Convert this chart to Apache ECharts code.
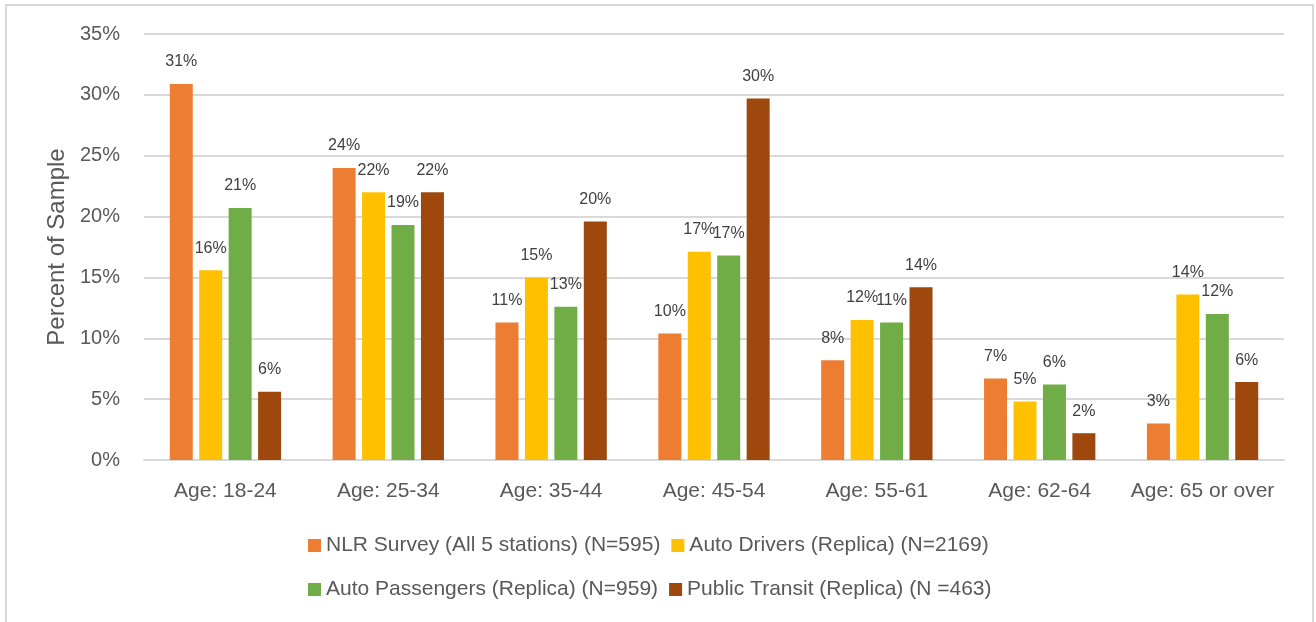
<!DOCTYPE html>
<html>
<head>
<meta charset="utf-8">
<script src="https://cdn.jsdelivr.net/npm/echarts@6/dist/echarts.min.js"></script>
<style>
html,body{margin:0;padding:0;background:#fff;}
#c{width:1316px;height:622px;}
</style>
</head>
<body>
<div id="c"></div>
<script>
const categories = ['Age: 18-24','Age: 25-34','Age: 35-44','Age: 45-54','Age: 55-61','Age: 62-64','Age: 65 or over'];
const seriesNames = ['NLR Survey (All 5 stations) (N=595)','Auto Drivers (Replica) (N=2169)','Auto Passengers (Replica) (N=959)','Public Transit (Replica) (N =463)'];
const nlrSurvey = [30.9, 24.0, 11.3, 10.4, 8.2, 6.7, 3.0];
const autoDrivers = [15.6, 22.0, 15.0, 17.1, 11.5, 4.8, 13.6];
const autoPassengers = [20.7, 19.3, 12.6, 16.8, 11.3, 6.2, 12.0];
const publicTransit = [5.6, 22.0, 19.6, 29.7, 14.2, 2.2, 6.4];
const yTicks = [0, 5, 10, 15, 20, 25, 30, 35];
const colors = ['#ED7D31','#FFC000','#70AD47','#9E480E'];

const FONT = '"Liberation Sans", Arial, sans-serif';
const txt = '#595959';
const allData = [nlrSurvey, autoDrivers, autoPassengers, publicTransit];

const legendBase = {
  left:303, itemWidth:13, itemHeight:13, itemGap:11, icon:'rect', orient:'horizontal',
  textStyle:{color:txt,fontSize:21,fontFamily:FONT}
};

const chart = echarts.init(document.getElementById('c'), null, {renderer:'canvas'});
chart.setOption({
  animation:false,
  textStyle:{fontFamily:FONT},
  graphic:[{type:'rect',shape:{x:6,y:5,width:1307,height:640},style:{fill:'none',stroke:'#D9D9D9',lineWidth:2},silent:true}],
  grid:{left:144,right:32,top:34,bottom:162},
  legend:[
    Object.assign({}, legendBase, {top:530, data:seriesNames.slice(0,2)}),
    Object.assign({}, legendBase, {top:574, data:seriesNames.slice(2,4)})
  ],
  xAxis:{
    type:'category', data:categories,
    axisLine:{lineStyle:{color:'#D9D9D9',width:2}},
    axisTick:{show:false},
    axisLabel:{color:txt,fontSize:21,margin:21,fontFamily:FONT,interval:0,hideOverlap:false}
  },
  yAxis:{
    type:'value', min:yTicks[0], max:yTicks[yTicks.length-1], interval:5,
    name:'Percent of Sample', nameLocation:'middle', nameGap:75,
    nameTextStyle:{color:txt,fontSize:24,fontFamily:FONT},
    axisLine:{show:false}, axisTick:{show:false},
    splitLine:{lineStyle:{color:'#D9D9D9',width:2}},
    axisLabel:{color:txt,fontSize:20,margin:24,formatter:'{value}%',fontFamily:FONT}
  },
  series: allData.map((d,i)=>({
    name:seriesNames[i], type:'bar', data:d,
    barWidth:23, barGap:'28%',
    itemStyle:{color:colors[i]},
    label:{show:true,position:'top',distance:14,color:'#404040',fontSize:16,fontFamily:FONT,
      formatter:p=>Math.round(p.value)+'%'}
  }))
});
</script>
</body>
</html>
